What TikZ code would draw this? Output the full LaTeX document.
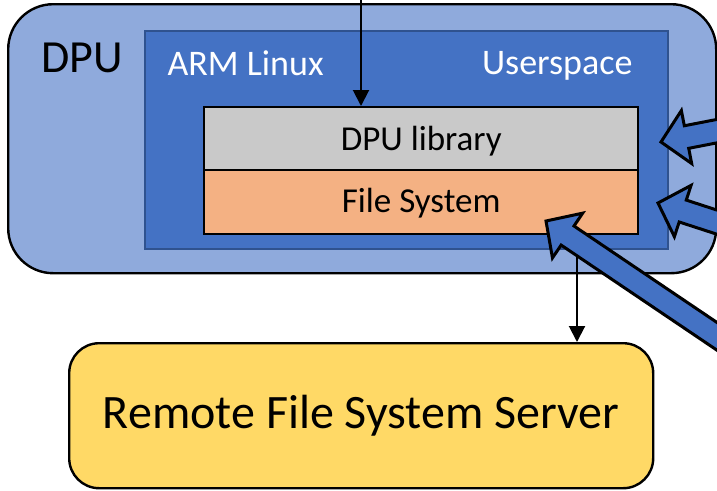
\documentclass[tikz,border=0pt]{standalone}
\usepackage{fontspec}
\setmainfont{Carlito}
\usetikzlibrary{arrows.meta}

\definecolor{dpublue}{HTML}{8FAADC}
\definecolor{armblue}{HTML}{4472C4}
\definecolor{armedge}{HTML}{2F528F}
\definecolor{libgray}{HTML}{C9C9C9}
\definecolor{fsorange}{HTML}{F4B183}
\definecolor{srvyellow}{HTML}{FFD966}

\tikzset{
  plate/.style={draw=black, line width=2.4pt, fill=dpublue, rounded corners=45pt,
    anchor=north west, inner sep=0pt},
  osbox/.style={draw=armedge, line width=2pt, fill=armblue, anchor=north west, inner sep=0pt},
  layer/.style={draw=black, line width=2.4pt, anchor=north west, inner sep=0pt},
  server/.style={draw=black, line width=2.4pt, fill=srvyellow, rounded corners=30pt,
    anchor=north west, inner sep=0pt},
  feedline/.style={draw=black, line width=2pt, -{Triangle[length=16pt,width=16pt]}},
  blockbody/.style={draw=black, fill=armblue, line width=3pt, line join=miter},
  blockarrow/.pic={
    \path[blockbody] (0,0) -- (26,27) -- (26,11.5) -- (260,11.5) -- (260,-11.5)
      -- (26,-11.5) -- (26,-27) -- cycle;
  },
}

\begin{document}
\begin{tikzpicture}[x=1pt,y=-1pt]
  \useasboundingbox (0,0) rectangle (717,490);
  \clip (0,0) rectangle (717,490);

  % DPU board and the ARM Linux userspace
  \node[plate, minimum width=708pt, minimum height=269pt] (dpu) at (7,3) {};
  \node[anchor=base west, font=\fontsize{46}{55}\selectfont] (dpulabel) at (38,72) {DPU};
  \node[osbox, minimum width=523pt, minimum height=218pt] (arm) at (144,30) {};
  \node[anchor=base west, text=white, font=\fontsize{36}{43}\selectfont] (armlabel) at (164,75) {ARM Linux};
  \node[anchor=base east, text=white, font=\fontsize{36}{43}\selectfont] (uslabel) at (636,74) {Userspace};

  % Software layers
  \node[layer, fill=libgray, minimum width=434pt, minimum height=63pt] (lib) at (203,106) {};
  \node[font=\fontsize{35}{42}\selectfont] (libtext) at ([yshift=-2pt]lib.center) {DPU library};
  \node[layer, fill=fsorange, minimum width=434pt, minimum height=64pt] (fs) at (203,169) {};
  \node[font=\fontsize{35}{42}\selectfont] (fstext) at ([yshift=-1pt]fs.center) {File System};

  % Remote server
  \node[server, minimum width=584pt, minimum height=145pt] (remote) at (68,342) {};
  \node[font=\fontsize{48}{57}\selectfont] (remotetext) at (remote.center) {Remote File System Server};

  % Thin connectors
  \coordinate (feed) at (361,0);
  \draw[feedline] (feed) -- (feed |- lib.north);
  \coordinate (drop) at (577,300);
  \draw[feedline] (fs.south -| drop) -- (remote.north -| drop);

  % Incoming block arrows
  \pic[rotate=11] (inA) at (661,142) {blockarrow};
  \pic[rotate=-18] (inB) at (658,203) {blockarrow};
  \pic[rotate=-34] (inC) at (546,221) {blockarrow};
\end{tikzpicture}
\end{document}
